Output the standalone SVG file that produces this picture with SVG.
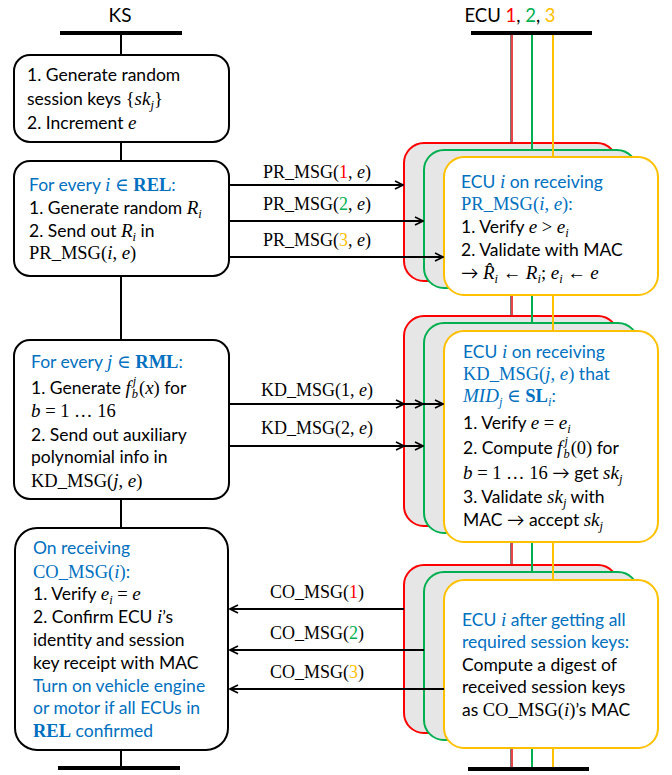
<svg xmlns="http://www.w3.org/2000/svg" width="672" height="775" viewBox="0 0 672 775">
<style>
.t{font-family:Lato,'Liberation Sans',sans-serif;font-size:17.5px;fill:#000}
.bl{fill:#0070c0}
.m{font-family:'Liberation Serif','DejaVu Serif',serif;font-style:italic;font-size:19px}
.u{font-family:'Liberation Serif','DejaVu Serif',serif;font-style:normal;font-size:18.5px}
.bf{font-family:'Liberation Serif','DejaVu Serif',serif;font-weight:bold;font-size:18.5px}
.s{font-size:12.5px}
.lbl{font-family:'Liberation Serif','DejaVu Serif',serif;font-size:18px;text-anchor:middle;fill:#000}
.box{fill:#fff;stroke:#000;stroke-width:2}
.rb{fill:#e6e6e6;stroke:#ff0000;stroke-width:2}
.gb{fill:#e6e6e6;stroke:#00b050;stroke-width:2}
.yb{fill:#fff;stroke:#ffc000;stroke-width:2}
.arr{stroke:#000;stroke-width:2;fill:none}
.bar{stroke:#000;stroke-width:4}
.r{fill:#ff0000}.g{fill:#00b050}.y{fill:#ffc000}
</style>
<defs>
<marker id="ah" viewBox="0 0 10 10" refX="9" refY="5" markerWidth="10" markerHeight="10" markerUnits="userSpaceOnUse" orient="auto">
<path d="M1,1 L9,5 L1,9" fill="none" stroke="#000" stroke-width="1.6"/>
</marker>
</defs>

<g id="titles">
<text class="t" x="120" y="22" text-anchor="middle" style="font-size:19px">KS</text>
<text class="t" x="510" y="22" text-anchor="middle" style="font-size:18.5px">ECU <tspan class="r">1</tspan>, <tspan class="g">2</tspan>, <tspan class="y">3</tspan></text>
</g>

<g id="lifelines">
<line class="bar" x1="60" y1="33" x2="182" y2="33"/>
<line class="bar" x1="471" y1="33" x2="592" y2="33"/>
<line class="bar" x1="58" y1="768" x2="180" y2="768"/>
<line class="bar" x1="468" y1="769" x2="589" y2="769"/>
<line stroke="#000" stroke-width="2" x1="121" y1="33" x2="121" y2="768"/>
</g>

<g id="ecu1-line">
<line stroke="#777" stroke-width="1" x1="510.5" y1="35" x2="510.5" y2="767"/>
<line stroke="#e0161b" stroke-width="1.6" x1="512" y1="35" x2="512" y2="767"/>
</g>
<g id="ecu1-pr"><rect class="rb" x="404" y="143" width="213" height="138" rx="20"/></g>
<g id="ecu1-kd"><rect class="rb" x="404" y="316" width="214" height="210" rx="20"/></g>
<g id="ecu1-co"><rect class="rb" x="404" y="565" width="214" height="168" rx="20"/></g>

<g id="ecu2-line"><line stroke="#00b050" stroke-width="2" x1="532" y1="35" x2="532" y2="767"/></g>
<g id="ecu2-pr"><rect class="gb" x="424" y="150" width="213" height="138" rx="20"/></g>
<g id="ecu2-kd"><rect class="gb" x="424" y="323" width="214" height="210" rx="20"/></g>
<g id="ecu2-co"><rect class="gb" x="424" y="572" width="214" height="168" rx="20"/></g>

<g id="ecu3-line"><line stroke="#ffc000" stroke-width="2" x1="553" y1="35" x2="553" y2="767"/></g>

<g id="ecu3-pr">
<rect class="yb" x="444" y="157" width="214" height="138" rx="20"/>
<text class="t bl" x="461" y="188">ECU <tspan class="m">i</tspan> on receiving</text>
<text class="t bl" x="461" y="210"><tspan class="u">PR_MSG(</tspan><tspan class="m">i</tspan><tspan class="u">, </tspan><tspan class="m">e</tspan><tspan class="u">)</tspan>:</text>
<text class="t" x="461" y="233">1. Verify <tspan class="m">e</tspan><tspan class="u"> &gt; </tspan><tspan class="m">e</tspan><tspan class="m s" dy="4">i</tspan></text>
<text class="t" x="461" y="256">2. Validate with MAC</text>
<text class="t" x="461" y="279">→ <tspan class="m">R̂</tspan><tspan class="m s" dy="4">i</tspan><tspan class="u" dy="-4"> ← </tspan><tspan class="m">R</tspan><tspan class="m s" dy="4">i</tspan><tspan class="u" dy="-4">; </tspan><tspan class="m">e</tspan><tspan class="m s" dy="4">i</tspan><tspan class="u" dy="-4"> ← </tspan><tspan class="m">e</tspan></text>
</g>

<g id="ecu3-kd">
<rect class="yb" x="444" y="331" width="214" height="211" rx="20"/>
<text class="t bl" x="463" y="358">ECU <tspan class="m">i</tspan> on receiving</text>
<text class="t bl" x="463" y="380"><tspan class="u">KD_MSG(</tspan><tspan class="m">j</tspan><tspan class="u">, </tspan><tspan class="m">e</tspan><tspan class="u">)</tspan> that</text>
<text class="t bl" x="463" y="402"><tspan class="m">MID</tspan><tspan class="m s" dy="4">j</tspan><tspan class="u" dy="-4"> ∈ </tspan><tspan class="bf">SL</tspan><tspan class="m s" dy="4">i</tspan><tspan dy="-4">:</tspan></text>
<text class="t" x="463" y="429">1. Verify <tspan class="m">e</tspan><tspan class="u"> = </tspan><tspan class="m">e</tspan><tspan class="m s" dy="4">i</tspan></text>
<text class="t" x="463" y="454">2. Compute <tspan class="m">f</tspan><tspan class="m s" dx="2" dy="-9">j</tspan><tspan class="m s" dx="-4.5" dy="13">b</tspan><tspan class="u" dx="1" dy="-4">(0)</tspan> for</text>
<text class="t" x="463" y="479"><tspan class="m">b</tspan><tspan class="u"> = 1 … 16</tspan> → get <tspan class="m">sk</tspan><tspan class="m s" dy="4">j</tspan></text>
<text class="t" x="463" y="503">3. Validate <tspan class="m">sk</tspan><tspan class="m s" dy="4">j</tspan><tspan dy="-4"> with</tspan></text>
<text class="t" x="463" y="526">MAC → accept <tspan class="m">sk</tspan><tspan class="m s" dy="4">j</tspan></text>
</g>

<g id="ecu3-co">
<rect class="yb" x="444" y="580" width="214" height="168" rx="20"/>
<text class="t bl" x="462" y="626">ECU <tspan class="m">i</tspan> after getting all</text>
<text class="t bl" x="462" y="648">required session keys:</text>
<text class="t" x="462" y="671">Compute a digest of</text>
<text class="t" x="462" y="693">received session keys</text>
<text class="t" x="462" y="716">as <tspan class="u">CO_MSG(</tspan><tspan class="m">i</tspan><tspan class="u">)</tspan>’s MAC</text>
</g>

<g id="ks-init">
<rect class="box" x="14" y="55" width="215" height="87" rx="16"/>
<text class="t" x="27" y="81">1. Generate random</text>
<text class="t" x="27" y="105">session keys <tspan class="u">{</tspan><tspan class="m">sk</tspan><tspan class="m s" dy="4">j</tspan><tspan class="u" dy="-4">}</tspan></text>
<text class="t" x="27" y="129">2. Increment <tspan class="m">e</tspan></text>
</g>

<g id="ks-pr">
<rect class="box" x="14" y="161" width="215" height="115" rx="16"/>
<text class="t bl" x="29" y="191">For every <tspan class="m">i</tspan><tspan class="u"> ∈ </tspan><tspan class="bf">REL</tspan>:</text>
<text class="t" x="29" y="214">1. Generate random <tspan class="m">R</tspan><tspan class="m s" dy="4">i</tspan></text>
<text class="t" x="29" y="237">2. Send out <tspan class="m">R</tspan><tspan class="m s" dy="4">i</tspan><tspan dy="-4"> in</tspan></text>
<text class="t" x="29" y="259"><tspan class="u">PR_MSG(</tspan><tspan class="m">i</tspan><tspan class="u">, </tspan><tspan class="m">e</tspan><tspan class="u">)</tspan></text>
</g>

<g id="ks-kd">
<rect class="box" x="14" y="340" width="215" height="159" rx="16"/>
<text class="t bl" x="31" y="368">For every <tspan class="m">j</tspan><tspan class="u"> ∈ </tspan><tspan class="bf">RML</tspan>:</text>
<text class="t" x="31" y="394">1. Generate <tspan class="m">f</tspan><tspan class="m s" dx="2" dy="-9">j</tspan><tspan class="m s" dx="-4.5" dy="13">b</tspan><tspan class="u" dx="1" dy="-4">(</tspan><tspan class="m">x</tspan><tspan class="u">)</tspan> for</text>
<text class="t" x="31" y="417"><tspan class="m">b</tspan><tspan class="u"> = 1 … 16</tspan></text>
<text class="t" x="31" y="441">2. Send out auxiliary</text>
<text class="t" x="31" y="463">polynomial info in</text>
<text class="t" x="31" y="487"><tspan class="u">KD_MSG(</tspan><tspan class="m">j</tspan><tspan class="u">, </tspan><tspan class="m">e</tspan><tspan class="u">)</tspan></text>
</g>

<g id="ks-co">
<rect class="box" x="15" y="528" width="213" height="222" rx="22"/>
<text class="t bl" x="33" y="554">On receiving</text>
<text class="t bl" x="33" y="578"><tspan class="u">CO_MSG(</tspan><tspan class="m">i</tspan><tspan class="u">)</tspan>:</text>
<text class="t" x="33" y="600">1. Verify <tspan class="m">e</tspan><tspan class="m s" dy="4">i</tspan><tspan class="u" dy="-4"> = </tspan><tspan class="m">e</tspan></text>
<text class="t" x="33" y="623">2. Confirm ECU <tspan class="m">i</tspan>’s</text>
<text class="t" x="33" y="646">identity and session</text>
<text class="t" x="33" y="669">key receipt with MAC</text>
<text class="t bl" x="33" y="692">Turn on vehicle engine</text>
<text class="t bl" x="33" y="714">or motor if all ECUs in</text>
<text class="t bl" x="33" y="737"><tspan class="bf">REL</tspan> confirmed</text>
</g>

<g id="connectors">
<path class="arr" d="M229,185 H403" marker-end="url(#ah)"/>
<path class="arr" d="M229,221 H423" marker-end="url(#ah)"/>
<path class="arr" d="M229,257 H443" marker-end="url(#ah)"/>
<polyline class="arr" points="229,404 404,404 423,404 443,404" marker-mid="url(#ah)" marker-end="url(#ah)"/>
<polyline class="arr" points="229,446 404,446 423,446" marker-mid="url(#ah)" marker-end="url(#ah)"/>
<path class="arr" d="M404,609 H230" marker-end="url(#ah)"/>
<path class="arr" d="M424,650 H230" marker-end="url(#ah)"/>
<path class="arr" d="M444,689 H230" marker-end="url(#ah)"/>
<text class="lbl" x="317" y="178">PR_MSG(<tspan class="r">1</tspan>, <tspan font-style="italic">e</tspan>)</text>
<text class="lbl" x="317" y="210">PR_MSG(<tspan class="g">2</tspan>, <tspan font-style="italic">e</tspan>)</text>
<text class="lbl" x="317" y="246">PR_MSG(<tspan class="y">3</tspan>, <tspan font-style="italic">e</tspan>)</text>
<text class="lbl" x="317" y="396">KD_MSG(1, <tspan font-style="italic">e</tspan>)</text>
<text class="lbl" x="317" y="434">KD_MSG(2, <tspan font-style="italic">e</tspan>)</text>
<text class="lbl" x="317" y="598">CO_MSG(<tspan class="r">1</tspan>)</text>
<text class="lbl" x="317" y="639">CO_MSG(<tspan class="g">2</tspan>)</text>
<text class="lbl" x="317" y="678">CO_MSG(<tspan class="y">3</tspan>)</text>
</g>
</svg>
